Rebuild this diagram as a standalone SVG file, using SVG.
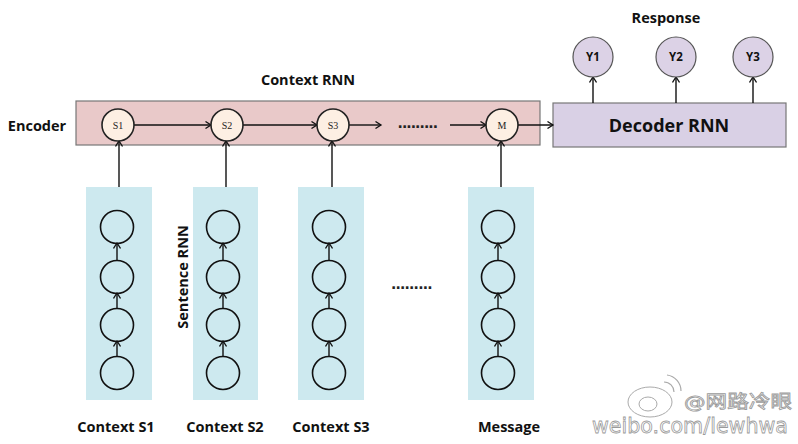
<svg xmlns="http://www.w3.org/2000/svg" width="798" height="444" viewBox="0 0 798 444">
<defs>
<marker id="ah" markerWidth="8" markerHeight="8" refX="6.5" refY="4" orient="auto" markerUnits="userSpaceOnUse">
<path d="M1,0.5 L6.5,4 L1,7.5" fill="none" stroke="#111" stroke-width="1.3"/>
</marker>
</defs>
<style>
.lbl{font-family:"Open Sans","Noto Sans",sans-serif;font-weight:bold;font-size:14.5px;fill:#111;text-anchor:middle}
.enc{fill:#fdefe3;stroke:#222;stroke-width:1.6}
.col{fill:#cde9ef}
.sc{fill:none;stroke:#111;stroke-width:1.6}
.yc{fill:#dcd2e6;stroke:#555;stroke-width:1.2}
.ar{stroke:#111;stroke-width:1.4;fill:none;marker-end:url(#ah)}
.st{font-family:"Liberation Serif",serif;font-size:10px;fill:#222;text-anchor:middle}
.dots{font-family:"DejaVu Sans",sans-serif;font-size:14px;font-weight:bold;fill:#222;text-anchor:middle;letter-spacing:-1.5px}
.wm{font-family:"DejaVu Sans","Noto Sans CJK SC",sans-serif;fill:#fff;stroke:#9a9a9a;stroke-width:0.8}
</style>
<rect width="798" height="444" fill="#fff"/>

<g id="encoder-band">
<rect x="76" y="101" width="464" height="44" fill="#e9c9c9" stroke="#777" stroke-width="1.2"/>
</g>
<g id="decoder">
<rect x="553" y="103" width="233" height="44" fill="#d9d0e5" stroke="#777" stroke-width="1.2"/>
<text x="669" y="132" class="lbl" style="font-size:18px">Decoder RNN</text>
</g>

<g id="columns">
<rect id="col1" class="col" x="86" y="187" width="66" height="213"/>
<rect id="col2" class="col" x="193" y="187" width="65" height="213"/>
<rect id="col3" class="col" x="298" y="187" width="66" height="213"/>
<rect id="col4" class="col" x="468" y="187" width="66" height="213"/>
</g>

<g id="connectors">
<line class="ar" x1="134" y1="125" x2="211" y2="125"/>
<line class="ar" x1="243" y1="125" x2="317" y2="125"/>
<line class="ar" x1="349" y1="125" x2="381" y2="125"/>
<line class="ar" x1="450" y1="125" x2="486" y2="125"/>
<line class="ar" x1="518" y1="125" x2="553" y2="125"/>
<line class="ar" x1="119" y1="187" x2="119" y2="141"/>
<line class="ar" x1="226" y1="187" x2="226" y2="141"/>
<line class="ar" x1="332" y1="187" x2="332" y2="141"/>
<line class="ar" x1="501" y1="187" x2="501" y2="141"/>
<line class="ar" x1="593" y1="103" x2="593" y2="77"/>
<line class="ar" x1="676" y1="103" x2="676" y2="77"/>
<line class="ar" x1="753" y1="103" x2="753" y2="77"/>
<g id="col-arrows">
<line class="ar" x1="117" y1="357" x2="117" y2="341"/>
<line class="ar" x1="117" y1="309" x2="117" y2="293"/>
<line class="ar" x1="117" y1="261" x2="117" y2="243"/>
<line class="ar" x1="223" y1="357" x2="223" y2="341"/>
<line class="ar" x1="223" y1="309" x2="223" y2="293"/>
<line class="ar" x1="223" y1="261" x2="223" y2="243"/>
<line class="ar" x1="329" y1="357" x2="329" y2="341"/>
<line class="ar" x1="329" y1="309" x2="329" y2="293"/>
<line class="ar" x1="329" y1="261" x2="329" y2="243"/>
<line class="ar" x1="498" y1="357" x2="498" y2="341"/>
<line class="ar" x1="498" y1="309" x2="498" y2="293"/>
<line class="ar" x1="498" y1="261" x2="498" y2="243"/>
</g>
</g>

<g id="S1"><circle class="enc" cx="118" cy="125" r="16"/><text class="st" x="118" y="129">S1</text></g>
<g id="S2"><circle class="enc" cx="227" cy="125" r="16"/><text class="st" x="227" y="129">S2</text></g>
<g id="S3"><circle class="enc" cx="333" cy="125" r="16"/><text class="st" x="333" y="129">S3</text></g>
<g id="M"><circle class="enc" cx="502" cy="125" r="16"/><text class="st" x="502" y="129">M</text></g>
<text class="dots" x="417" y="128" textLength="39" lengthAdjust="spacing">.........</text>

<g id="Y1"><circle class="yc" cx="593" cy="57" r="20"/><text class="lbl" x="593" y="61" style="font-size:11.5px">Y1</text></g>
<g id="Y2"><circle class="yc" cx="676" cy="57" r="20"/><text class="lbl" x="676" y="61" style="font-size:11.5px">Y2</text></g>
<g id="Y3"><circle class="yc" cx="753" cy="57" r="20"/><text class="lbl" x="753" y="61" style="font-size:11.5px">Y3</text></g>

<g id="col1-nodes"><circle class="sc" cx="117" cy="227" r="16.5"/><circle class="sc" cx="117" cy="277" r="16.5"/><circle class="sc" cx="117" cy="325" r="16.5"/><circle class="sc" cx="117" cy="373" r="16.5"/></g>
<g id="col2-nodes"><circle class="sc" cx="223" cy="227" r="16.5"/><circle class="sc" cx="223" cy="277" r="16.5"/><circle class="sc" cx="223" cy="325" r="16.5"/><circle class="sc" cx="223" cy="373" r="16.5"/></g>
<g id="col3-nodes"><circle class="sc" cx="329" cy="227" r="16.5"/><circle class="sc" cx="329" cy="277" r="16.5"/><circle class="sc" cx="329" cy="325" r="16.5"/><circle class="sc" cx="329" cy="373" r="16.5"/></g>
<g id="col4-nodes"><circle class="sc" cx="498" cy="227" r="16.5"/><circle class="sc" cx="498" cy="277" r="16.5"/><circle class="sc" cx="498" cy="325" r="16.5"/><circle class="sc" cx="498" cy="373" r="16.5"/></g>

<text class="dots" x="411" y="289" textLength="40" lengthAdjust="spacing">.........</text>

<g id="labels">
<text class="lbl" x="37" y="131">Encoder</text>
<text class="lbl" x="308" y="85">Context RNN</text>
<text class="lbl" x="666" y="23">Response</text>
<text class="lbl" transform="translate(188,277) rotate(-90)">Sentence RNN</text>
<text class="lbl" x="116" y="432">Context S1</text>
<text class="lbl" x="225" y="432">Context S2</text>
<text class="lbl" x="331" y="432">Context S3</text>
<text class="lbl" x="509" y="432">Message</text>
</g>

<g id="watermark">
<ellipse cx="650" cy="402" rx="22" ry="15" fill="#fff" stroke="#aaa" stroke-width="1"/>
<ellipse cx="648" cy="404" rx="9" ry="7" fill="none" stroke="#aaa" stroke-width="1"/>
<path d="M664,382 a10,10 0 0 1 10,10 M667,375 a16,16 0 0 1 14,16" fill="none" stroke="#aaa" stroke-width="1.2"/>
<text class="wm" x="684" y="408" style="font-size:18px" textLength="108" lengthAdjust="spacingAndGlyphs">@网路冷眼</text>
<text class="wm" x="592" y="433" style="font-size:21px" textLength="196" lengthAdjust="spacingAndGlyphs">weibo.com/lewhwa</text>
</g>
</svg>
